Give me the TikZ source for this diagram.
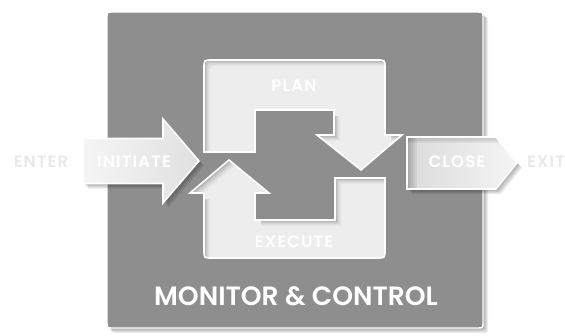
\documentclass[tikz,border=0pt]{standalone}
\usepackage{fontspec}
\setmainfont{Poppins}
\newfontfamily\tagfont{Poppins SemiBold}[LetterSpace=7]
\newfontfamily\titlefont{Poppins SemiBold}
\usetikzlibrary{calc}

% greys
\definecolor{boxgrey}{HTML}{8E8E8E}
\definecolor{faint}{HTML}{E9E9E9}

% outlines of the shapes (1 unit = 1pt, y grows downwards)
\def\mainpath{(113,12) -- (477,12) .. controls (483,12) .. (483,18) -- (483,322)
  .. controls (483,328) .. (477,328) -- (113,328) .. controls (107,328) .. (107,322)
  -- (107,18) .. controls (107,12) .. (113,12) -- cycle}
\def\planpath{(204,152) -- (204,68) .. controls (204,60) .. (212,60) -- (377,60)
  .. controls (385,60) .. (385,68) -- (385,135) -- (402,135) -- (361,170)
  -- (317,135) -- (334,135) -- (334,110) -- (255,110) -- (255,152) -- cycle}
\def\execpath{(204,250) -- (204,193) -- (190,193) -- (229,160) -- (269,193)
  -- (255,193) -- (255,220) -- (335,220) -- (335,178) -- (385,178) -- (385,250)
  .. controls (385,258) .. (377,258) -- (212,258) .. controls (204,258) .. (204,250) -- cycle}
\def\initpath{(83,138.5) -- (163,138.5) -- (163,119) -- (199,161) -- (163,203)
  -- (163,183.5) -- (83,183.5) -- cycle}
\def\closepath{(407,137) -- (496,137) -- (517,163) -- (496,189) -- (407,189) -- cycle}

\tikzset{
  label/.style={text=white, inner sep=0pt, font=\tagfont\fontsize{16.5}{16.5}\selectfont},
  ghost/.style={text=faint, inner sep=0pt, font=\tagfont\fontsize{16.5}{16.5}\selectfont},
  rim/.style={draw=white, line width=1.6pt, line join=miter},
}

% light panel with a soft shadow inside its upper and left edges
\newcommand\insetpanel[1]{%
  \begin{scope}
    \clip #1;
    \foreach \s/\c in {0/32,1/27,2/22,3/17,4/13,5/10,6/7} {
      \begin{scope}[shift={(\s,\s)}]
        \fill[black!\c] #1;
      \end{scope}
    }
  \end{scope}
  \draw[rim] #1;
}

% soft shadow cast down and to the right
\newcommand\dropshadow[1]{%
  \foreach \s in {1,...,5} {
    \begin{scope}[shift={(\s,\s)}]
      \fill[black, opacity=0.07] #1;
    \end{scope}
  }
}

\begin{document}
\begin{tikzpicture}[x=1pt, y=-1pt]
  \useasboundingbox (0,0) rectangle (565,335);
  \fill[white] (0,0) rectangle (565,335);

  % monitor & control frame
  \dropshadow{\mainpath}
  \fill[boxgrey] \mainpath;
  \draw[draw=white, line width=1.4pt] \mainpath;

  % plan and execute loop
  \insetpanel{\planpath}
  \insetpanel{\execpath}

  % initiate arrow
  \dropshadow{\initpath}
  \shade[left color=white!96!black, right color=black!12] \initpath;
  \draw[rim] \initpath;

  % close arrow
  \dropshadow{\closepath}
  \shade[left color=black!14, right color=white!96!black] \closepath;
  \begin{scope}
    \clip \closepath;
    \foreach \w in {2,4,6,8,10} {
      \fill[black, opacity=0.05] (407,137) rectangle (407+\w,189);
      \fill[black, opacity=0.04] (407,137) rectangle (517,137+\w*0.6);
    }
  \end{scope}
  \draw[rim] (517,163) -- (496,137) -- (407,137) -- (407,189) -- (496,189) -- cycle;

  % labels
  \node[label] (plan) at (294,86) {PLAN};
  \node[label] (execute) at (294,242) {EXECUTE};
  \node[label] (initiate) at (134,162) {INITIATE};
  \node[label] (close) at (457,162) {CLOSE};
  \node[ghost] (enter) at (41,162) {ENTER};
  \node[ghost, anchor=west] (exit) at (527,162) {EXIT};
  \node[text=white, inner sep=0pt, font=\titlefont\fontsize{26.5}{26.5}\selectfont]
    (mc) at (296,296) {MONITOR \& CONTROL};
\end{tikzpicture}
\end{document}
